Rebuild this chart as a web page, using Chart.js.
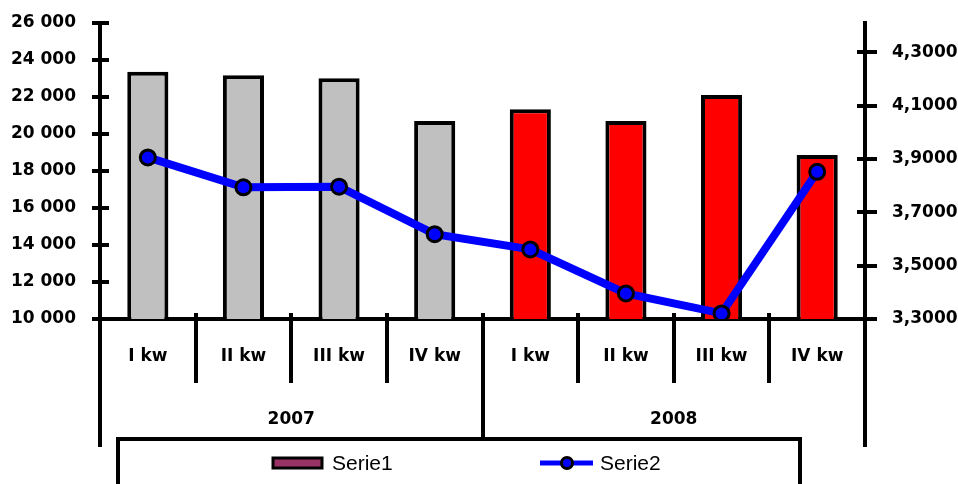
<!DOCTYPE html>
<html>
<head>
<meta charset="utf-8">
<script src="https://cdn.jsdelivr.net/npm/chart.js@4/dist/chart.umd.min.js"></script>
<style>
  html, body { margin: 0; padding: 0; background: #ffffff; }
  canvas { display: block; }
</style>
</head>
<body>
<canvas id="chart" width="958" height="484"></canvas>
<script>
// Quarterly data, two years
const quarters = ['I kw', 'II kw', 'III kw', 'IV kw', 'I kw', 'II kw', 'III kw', 'IV kw'];
const years = ['2007', '2008'];
const quartersPerYear = [4, 4];
const serie1 = [23370, 23170, 23010, 20700, 21340, 20700, 22110, 18860];
const serie2 = [3.906, 3.794, 3.796, 3.618, 3.561, 3.396, 3.321, 3.852];
const seriesNames = ['Serie1', 'Serie2'];

// Axis ticks
const leftTicks = [10000, 12000, 14000, 16000, 18000, 20000, 22000, 24000, 26000];
const leftTickLabels = ['10 000', '12 000', '14 000', '16 000', '18 000', '20 000', '22 000', '24 000', '26 000'];
const rightTicks = [3.3, 3.5, 3.7, 3.9, 4.1, 4.3];
const rightTickLabels = ['3,3000', '3,5000', '3,7000', '3,9000', '4,1000', '4,3000'];

// Styling
const yearColors = ['#c0c0c0', '#ff0000'];
const barColors = [];
quartersPerYear.forEach((n, yi) => { for (let k = 0; k < n; k++) barColors.push(yearColors[yi]); });
const legendBarColor = '#993366';
const lineColor = '#0000ff';
const boldFont = { family: 'DejaVu Sans', weight: 'bold', size: 17 };
const legendFont = '21px "Liberation Sans", Arial, sans-serif';

function line(ctx, x1, y1, x2, y2) {
  ctx.beginPath();
  ctx.moveTo(x1, y1);
  ctx.lineTo(x2, y2);
  ctx.stroke();
}

// Axis frame: crossing tick marks, category separators, year brackets
const axisFrame = {
  id: 'axisFrame',
  beforeDatasetsDraw(chart) {
    const { ctx, chartArea: a, scales } = chart;
    const x = scales.x, yl = scales.y, yr = scales.y1;
    ctx.save();
    ctx.strokeStyle = '#000';
    ctx.lineWidth = 4;
    ctx.lineCap = 'butt';

    yl.ticks.forEach(t => {
      const py = Math.round(yl.getPixelForValue(t.value));
      line(ctx, a.left - 8, py, a.left + 9, py);
    });
    yr.ticks.forEach(t => {
      const py = Math.round(yr.getPixelForValue(t.value));
      line(ctx, a.right - 8, py, a.right + 12, py);
    });

    // horizontal axis running past both vertical axes
    line(ctx, a.left - 8, a.bottom, a.right + 12, a.bottom);

    const step = x.getPixelForValue(1) - x.getPixelForValue(0);
    const n = quarters.length;
    const yearEdges = [0];
    quartersPerYear.forEach(q => yearEdges.push(yearEdges[yearEdges.length - 1] + q));
    for (let i = 0; i <= n; i++) {
      const px = Math.round(x.getPixelForValue(0) - step / 2 + i * step);
      if (i === 0 || i === n) {
        line(ctx, px, a.bottom, px, 447);
      } else if (yearEdges.includes(i)) {
        line(ctx, px, a.bottom - 6, px, 437);
      } else {
        line(ctx, px, a.bottom - 6, px, 383);
      }
    }
    ctx.restore();
  },
  afterDraw(chart) {
    const { ctx, scales } = chart;
    const x = scales.x;
    const step = x.getPixelForValue(1) - x.getPixelForValue(0);
    ctx.save();

    // year labels
    ctx.fillStyle = '#000';
    ctx.font = 'bold 17px "DejaVu Sans"';
    ctx.textAlign = 'center';
    ctx.textBaseline = 'middle';
    let start = 0;
    years.forEach((yr, yi) => {
      const left = x.getPixelForValue(start) - step / 2;
      const right = x.getPixelForValue(start + quartersPerYear[yi] - 1) + step / 2;
      ctx.fillText(yr, (left + right) / 2, 420);
      start += quartersPerYear[yi];
    });

    // legend box
    ctx.strokeStyle = '#000';
    ctx.lineWidth = 4;
    ctx.beginPath();
    ctx.moveTo(118, 500);
    ctx.lineTo(118, 439);
    ctx.lineTo(800, 439);
    ctx.lineTo(800, 500);
    ctx.stroke();

    const ly = 463;
    // Serie1 swatch
    ctx.fillStyle = legendBarColor;
    ctx.fillRect(273, ly - 5, 49, 10);
    ctx.lineWidth = 3;
    ctx.strokeRect(273, ly - 5, 49, 10);
    // Serie2 line + marker
    ctx.strokeStyle = lineColor;
    ctx.lineWidth = 5;
    line(ctx, 540, ly, 593, ly);
    ctx.beginPath();
    ctx.arc(567, ly, 5.5, 0, Math.PI * 2);
    ctx.fillStyle = lineColor;
    ctx.fill();
    ctx.strokeStyle = '#000';
    ctx.lineWidth = 3;
    ctx.stroke();

    ctx.fillStyle = '#000';
    ctx.font = legendFont;
    ctx.textAlign = 'left';
    ctx.textBaseline = 'middle';
    ctx.fillText(seriesNames[0], 332, ly + 1);
    ctx.fillText(seriesNames[1], 600, ly + 1);
    ctx.restore();
  }
};

new Chart(document.getElementById('chart'), {
  data: {
    labels: quarters,
    datasets: [
      {
        type: 'line',
        label: seriesNames[1],
        data: serie2,
        yAxisID: 'y1',
        order: 0,
        borderColor: lineColor,
        borderWidth: 8,
        tension: 0,
        pointRadius: 7.5,
        pointBorderWidth: 3,
        pointBackgroundColor: lineColor,
        pointBorderColor: '#000'
      },
      {
        type: 'bar',
        label: seriesNames[0],
        data: serie1,
        yAxisID: 'y',
        order: 1,
        backgroundColor: barColors,
        borderColor: '#000',
        borderWidth: 4,
        borderSkipped: 'bottom',
        categoryPercentage: 1,
        barPercentage: 0.43
      }
    ]
  },
  options: {
    responsive: false,
    animation: false,
    devicePixelRatio: 1,
    layout: { padding: { top: 23, left: 0, right: 0, bottom: 0 } },
    plugins: { legend: { display: false }, tooltip: { enabled: false } },
    scales: {
      x: {
        type: 'category',
        offset: true,
        grid: { display: false, drawTicks: false },
        border: { display: true, color: '#000', width: 4 },
        ticks: { font: boldFont, color: '#000', padding: 27, maxRotation: 0, autoSkip: false },
        afterFit(scale) { scale.height = 165; }
      },
      y: {
        position: 'left',
        min: 10000,
        max: 26000,
        grid: { display: false, drawTicks: true, tickLength: 24 },
        border: { display: true, color: '#000', width: 4 },
        afterBuildTicks(scale) { scale.ticks = leftTicks.map(v => ({ value: v })); },
        ticks: {
          font: boldFont, color: '#000', padding: 0,
          callback: (v, i) => leftTickLabels[i]
        },
        afterFit(scale) { scale.width = 100; }
      },
      y1: {
        position: 'right',
        min: 3.3,
        max: 4.41,
        grid: { display: false, drawTicks: true, tickLength: 27 },
        border: { display: true, color: '#000', width: 4 },
        afterBuildTicks(scale) { scale.ticks = rightTicks.map(v => ({ value: v })); },
        ticks: {
          font: boldFont, color: '#000', padding: 0,
          callback: (v, i) => rightTickLabels[i]
        },
        afterFit(scale) { scale.width = 93; }
      }
    }
  },
  plugins: [axisFrame]
});
</script>
</body>
</html>
